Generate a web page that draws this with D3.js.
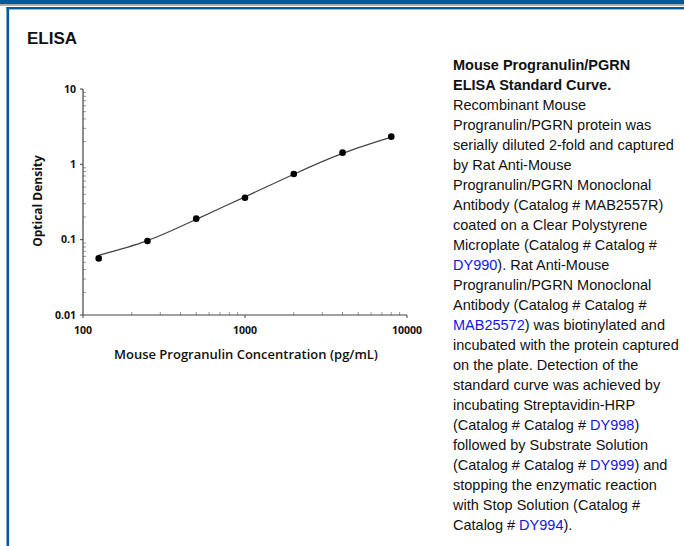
<!DOCTYPE html>
<html>
<head>
<meta charset="utf-8">
<script src="https://cdn.jsdelivr.net/npm/d3@7"></script>
<style>
  body { margin: 0; background: #fff; }
  svg { display: block; }
</style>
</head>
<body>
<div id="chart"></div>
<script>
// standard curve data
const concentrations = [125, 250, 500, 1000, 2000, 4000, 8000];
const odValues = [0.0564, 0.096, 0.19, 0.36, 0.745, 1.43, 2.33];
// fitted curve passing through the points
const fitValues = [0.062, 0.097, 0.186, 0.37, 0.74, 1.40, 2.30];
const xTicks = [100, 1000, 10000];
const yTicks = [0.01, 0.1, 1, 10];

const captionLines = [
  [{t: "Mouse Progranulin/PGRN", b: true}],
  [{t: "ELISA Standard Curve.", b: true}],
  [{t: "Recombinant Mouse"}],
  [{t: "Progranulin/PGRN protein was"}],
  [{t: "serially diluted 2-fold and captured"}],
  [{t: "by Rat Anti-Mouse"}],
  [{t: "Progranulin/PGRN Monoclonal"}],
  [{t: "Antibody (Catalog # MAB2557R)"}],
  [{t: "coated on a Clear Polystyrene"}],
  [{t: "Microplate (Catalog # Catalog #"}],
  [{t: "DY990", link: true}, {t: "). Rat Anti-Mouse"}],
  [{t: "Progranulin/PGRN Monoclonal"}],
  [{t: "Antibody (Catalog # Catalog #"}],
  [{t: "MAB25572", link: true}, {t: ") was biotinylated and"}],
  [{t: "incubated with the protein captured"}],
  [{t: "on the plate. Detection of the"}],
  [{t: "standard curve was achieved by"}],
  [{t: "incubating Streptavidin-HRP"}],
  [{t: "(Catalog # Catalog # "}, {t: "DY998", link: true}, {t: ")"}],
  [{t: "followed by Substrate Solution"}],
  [{t: "(Catalog # Catalog # "}, {t: "DY999", link: true}, {t: ") and"}],
  [{t: "stopping the enzymatic reaction"}],
  [{t: "with Stop Solution (Catalog #"}],
  [{t: "Catalog # "}, {t: "DY994", link: true}, {t: ")."}]
];

const width = 684, height = 546;
const blue = "#005a9c";

const svg = d3.select("#chart").append("svg")
    .attr("width", width)
    .attr("height", height)
    .attr("viewBox", `0 0 ${width} ${height}`);

// page frame
svg.append("rect").attr("x", 0).attr("y", 0).attr("width", width).attr("height", 4).attr("fill", blue);
svg.append("rect").attr("x", 0).attr("y", 4).attr("width", width).attr("height", 1.8).attr("fill", "#a3a3a3");
svg.append("rect").attr("x", 6.5).attr("y", 7).attr("width", width).attr("height", 2.4).attr("fill", blue);
svg.append("rect").attr("x", 6.5).attr("y", 7).attr("width", 2.6).attr("height", height).attr("fill", blue);

svg.append("text")
    .attr("x", 27).attr("y", 44)
    .attr("font-family", "Liberation Sans, Arial, sans-serif")
    .attr("font-weight", "bold")
    .attr("font-size", 17)
    .attr("fill", "#111")
    .text("ELISA");

// scales
const x = d3.scaleLog().domain([100, 10000]).range([83, 407]);
const y = d3.scaleLog().domain([0.01, 10]).range([315, 89]);

const g = svg.append("g");
const axisColor = "#444";
const tickFont = "'Open Sans', sans-serif";

// minor ticks
const minorX = [];
for (let d = 100; d < 10000; d *= 10) for (let k = 2; k <= 9; k++) minorX.push(d * k);
const minorY = [];
for (let d = 0.01; d < 10; d *= 10) for (let k = 2; k <= 9; k++) minorY.push(d * k);

g.selectAll(".mx").data(minorX).join("line")
    .attr("x1", d => x(d)).attr("x2", d => x(d))
    .attr("y1", y(0.01)).attr("y2", y(0.01) - 3)
    .attr("stroke", "#999").attr("stroke-width", 1);
g.selectAll(".my").data(minorY).join("line")
    .attr("x1", x(100)).attr("x2", x(100) + 3)
    .attr("y1", d => y(d)).attr("y2", d => y(d))
    .attr("stroke", "#999").attr("stroke-width", 1);

// axis lines
g.append("line").attr("x1", x(100)).attr("x2", x(10000)).attr("y1", y(0.01)).attr("y2", y(0.01))
    .attr("stroke", axisColor).attr("stroke-width", 1.2);
g.append("line").attr("x1", x(100)).attr("x2", x(100)).attr("y1", y(0.01)).attr("y2", y(10))
    .attr("stroke", axisColor).attr("stroke-width", 1.2);

// major ticks + labels
g.selectAll(".xt").data(xTicks).join("line")
    .attr("x1", d => x(d)).attr("x2", d => x(d))
    .attr("y1", y(0.01)).attr("y2", y(0.01) + 3)
    .attr("stroke", axisColor);
g.selectAll(".xl").data(xTicks).join("text")
    .attr("x", d => x(d)).attr("y", 334)
    .attr("text-anchor", "middle")
    .attr("font-family", tickFont).attr("font-weight", 700).attr("font-size", 10.5)
    .attr("fill", "#111")
    .text(d => d3.format("d")(d));

g.selectAll(".yt").data(yTicks).join("line")
    .attr("x1", x(100) - 3).attr("x2", x(100))
    .attr("y1", d => y(d)).attr("y2", d => y(d))
    .attr("stroke", axisColor);
g.selectAll(".yl").data(yTicks).join("text")
    .attr("x", 76).attr("y", d => y(d) + 3.5)
    .attr("text-anchor", "end")
    .attr("font-family", tickFont).attr("font-weight", 700).attr("font-size", 10.5)
    .attr("fill", "#111")
    .text(d => d >= 1 ? d3.format("d")(d) : String(d));

// axis titles
svg.append("text")
    .attr("x", 246).attr("y", 359)
    .attr("text-anchor", "middle")
    .attr("font-family", tickFont).attr("font-weight", 600).attr("font-size", 13)
    .attr("fill", "#111")
    .text("Mouse Progranulin Concentration (pg/mL)");
svg.append("text")
    .attr("transform", "translate(42,201) rotate(-90)")
    .attr("text-anchor", "middle")
    .attr("font-family", tickFont).attr("font-weight", 700).attr("font-size", 12)
    .attr("fill", "#111")
    .text("Optical Density");

// fitted curve
const fit = concentrations.map((c, i) => [c, fitValues[i]]);
const line = d3.line()
    .x(d => x(d[0]))
    .y(d => y(d[1]))
    .curve(d3.curveNatural);
g.append("path")
    .datum(fit)
    .attr("fill", "none")
    .attr("stroke", "#444")
    .attr("stroke-width", 1.2)
    .attr("d", line);

// points
g.selectAll(".pt").data(concentrations).join("circle")
    .attr("cx", d => x(d))
    .attr("cy", (d, i) => y(odValues[i]))
    .attr("r", 3.3)
    .attr("fill", "#000");

// caption
const cap = svg.append("g")
    .attr("font-family", "Liberation Sans, Arial, sans-serif")
    .attr("font-size", 14.5)
    .attr("fill", "#111");
captionLines.forEach((ln, i) => {
  const t = cap.append("text").attr("x", 453).attr("y", 70 + i * 20);
  ln.forEach(s => {
    t.append("tspan")
        .attr("font-weight", s.b ? "bold" : "normal")
        .attr("fill", s.link ? "#1414e6" : "#111")
        .text(s.t);
  });
});
</script>
</body>
</html>
